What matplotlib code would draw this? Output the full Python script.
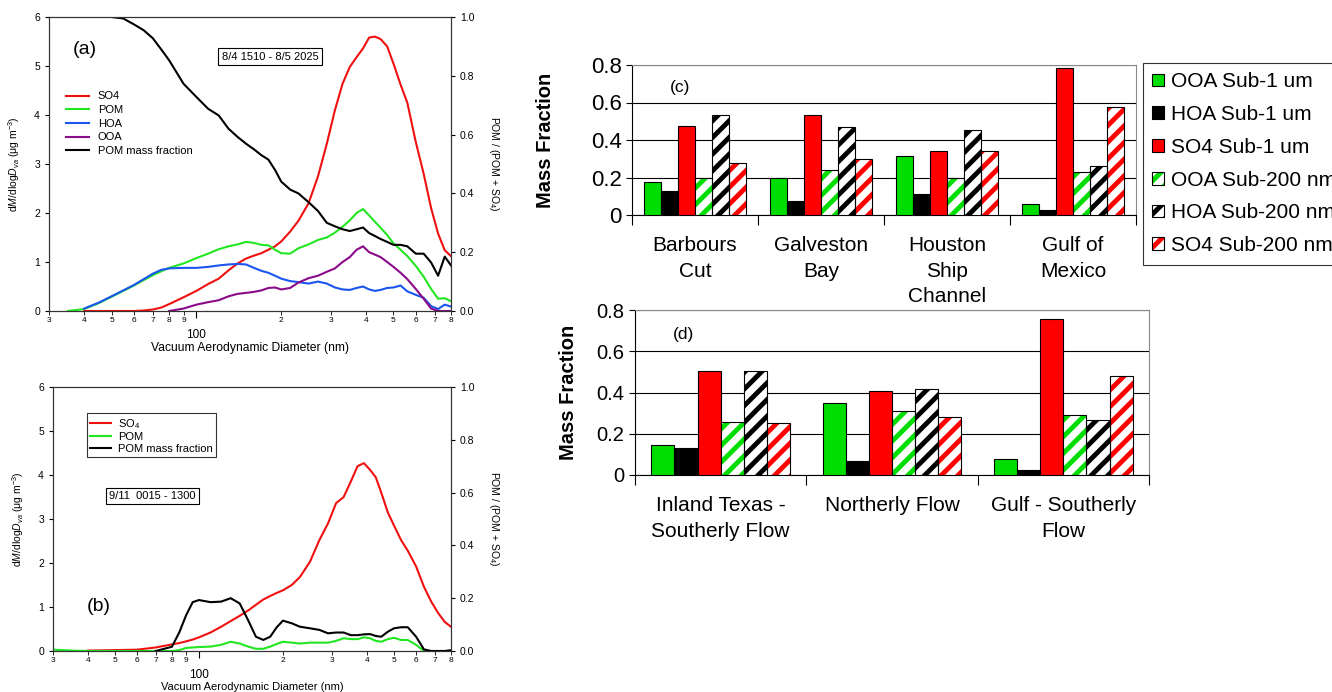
import numpy as np
from matplotlib import pyplot as plt
from matplotlib import rc
from matplotlib.patches import Patch
from matplotlib.legend_handler import HandlerTuple

rc('font', family=['Liberation Sans', 'DejaVu Sans'])
rc('mathtext', fontset='custom', rm='Liberation Sans', it='Liberation Sans:italic')
rc('hatch', linewidth=3.5)

nan = np.nan

# panel (a): size distributions 8/4 1510 - 8/5 2025
d_a = [30, 35, 40, 45, 50, 55, 60, 65, 70, 75, 80, 90, 100, 110, 120, 130, 140, 150,
       160, 170, 180, 190, 200, 215, 230, 250, 270, 290, 310, 330, 350, 370, 390, 410,
       430, 450, 475, 500, 530, 560, 600, 640, 680, 720, 760, 800]
so4_a = [nan, nan, 0, 0, 0, 0, 0, 0.01, 0.03, 0.07, 0.14, 0.28, 0.41, 0.55, 0.66, 0.83,
         0.97, 1.07, 1.13, 1.18, 1.25, 1.32, 1.42, 1.62, 1.84, 2.2, 2.75, 3.41, 4.1, 4.64,
         4.98, 5.18, 5.36, 5.58, 5.6, 5.55, 5.4, 5.05, 4.62, 4.25, 3.45, 2.8, 2.1, 1.58,
         1.24, 1.12]
pom_a = [nan, 0, 0.04, 0.16, 0.29, 0.41, 0.52, 0.63, 0.73, 0.81, 0.88, 0.97, 1.08, 1.17,
         1.26, 1.32, 1.36, 1.41, 1.39, 1.35, 1.34, 1.25, 1.18, 1.17, 1.28, 1.36, 1.45, 1.5,
         1.6, 1.72, 1.85, 2.0, 2.08, 1.95, 1.82, 1.7, 1.55, 1.38, 1.25, 1.12, 0.92, 0.7,
         0.45, 0.25, 0.26, 0.2]
hoa_a = [0.02, nan, 0.05, 0.17, 0.3, 0.42, 0.53, 0.65, 0.76, 0.84, 0.87, 0.88, 0.88, 0.9,
         0.93, 0.95, 0.96, 0.95, 0.88, 0.82, 0.78, 0.72, 0.66, 0.61, 0.59, 0.56, 0.6, 0.56,
         0.48, 0.44, 0.43, 0.47, 0.5, 0.44, 0.41, 0.43, 0.47, 0.48, 0.52, 0.4, 0.33, 0.27,
         0.1, 0.04, 0.13, 0.09]
ooa_a = [nan, nan, nan, nan, nan, nan, nan, nan, nan, nan, 0, 0.05, 0.13, 0.18, 0.22, 0.3,
         0.35, 0.37, 0.39, 0.42, 0.47, 0.48, 0.44, 0.47, 0.58, 0.67, 0.72, 0.8, 0.87, 1.0,
         1.1, 1.25, 1.32, 1.2, 1.15, 1.1, 1.0, 0.9, 0.78, 0.65, 0.45, 0.25, 0.05, 0, 0, 0]
frac_a = [nan, nan, nan, nan, 1.0, 0.995, 0.975, 0.955, 0.928, 0.89, 0.853, 0.773, 0.728,
          0.688, 0.665, 0.62, 0.592, 0.569, 0.55, 0.53, 0.515, 0.48, 0.44, 0.413, 0.40,
          0.37, 0.34, 0.3, 0.288, 0.278, 0.272, 0.278, 0.284, 0.265, 0.255, 0.245, 0.235,
          0.225, 0.225, 0.22, 0.195, 0.195, 0.165, 0.12, 0.185, 0.155]

# panel (b): size distributions 9/11 0015 - 1300
d_b = [30, 35, 40, 50, 60, 70, 80, 85, 90, 95, 100, 110, 120, 130, 140, 150, 160, 170,
       180, 190, 200, 215, 230, 250, 270, 290, 310, 330, 350, 370, 390, 410, 430, 450,
       475, 500, 530, 560, 600, 640, 680, 720, 760, 800]
so4_b = [nan, nan, 0.01, 0.02, 0.03, 0.08, 0.15, 0.18, 0.22, 0.26, 0.31, 0.42, 0.55, 0.68,
         0.8, 0.92, 1.05, 1.17, 1.25, 1.32, 1.38, 1.5, 1.68, 2.03, 2.52, 2.9, 3.36, 3.5,
         3.85, 4.2, 4.27, 4.12, 3.95, 3.6, 3.15, 2.85, 2.52, 2.28, 1.92, 1.46, 1.12, 0.86,
         0.66, 0.55]
pom_b = [0.03, 0.01, 0, 0, 0, 0, 0, 0.02, 0.07, 0.08, 0.09, 0.1, 0.14, 0.21, 0.17, 0.1,
         0.05, 0.05, 0.1, 0.16, 0.21, 0.19, 0.17, 0.19, 0.19, 0.19, 0.23, 0.29, 0.27, 0.27,
         0.31, 0.29, 0.23, 0.21, 0.27, 0.3, 0.25, 0.25, 0.14, 0, 0, 0, 0, 0]
frac_b = [nan, nan, nan, nan, nan, 0, 0.016, 0.07, 0.136, 0.185, 0.193, 0.185, 0.187, 0.2,
          0.18, 0.117, 0.054, 0.042, 0.054, 0.09, 0.115, 0.105, 0.092, 0.086, 0.08, 0.067,
          0.07, 0.07, 0.06, 0.06, 0.063, 0.064, 0.057, 0.054, 0.073, 0.086, 0.09, 0.09,
          0.054, 0.006, 0, 0, 0, 0.003]

# panel (c): mass fractions by site
sites = ['Barbours\nCut', 'Galveston\nBay', 'Houston\nShip\nChannel', 'Gulf of\nMexico']
ooa1_c = [0.175, 0.20, 0.316, 0.06]
hoa1_c = [0.127, 0.075, 0.11, 0.027]
so41_c = [0.477, 0.534, 0.342, 0.786]
ooa200_c = [0.20, 0.241, 0.20, 0.232]
hoa200_c = [0.534, 0.468, 0.452, 0.259]
so4200_c = [0.275, 0.30, 0.342, 0.575]

# panel (d): mass fractions by flow regime
flows = ['Inland Texas -\nSoutherly Flow', 'Northerly Flow', 'Gulf - Southerly\nFlow']
ooa1_d = [0.145, 0.348, 0.076]
hoa1_d = [0.131, 0.069, 0.024]
so41_d = [0.505, 0.405, 0.755]
ooa200_d = [0.258, 0.311, 0.289]
hoa200_d = [0.505, 0.419, 0.266]
so4200_d = [0.25, 0.282, 0.479]

bar_labels = ['OOA Sub-1 um', 'HOA Sub-1 um', 'SO4 Sub-1 um',
              'OOA Sub-200 nm', 'HOA Sub-200 nm', 'SO4 Sub-200 nm']

RED, GREEN, BLUE, PURPLE = '#f01010', '#22e622', '#1a55f0', '#8a0a8a'
BGREEN, BRED = '#00dd00', '#ff0000'

W, H = 1332, 692
fig = plt.figure(figsize=(W / 100, H / 100), dpi=100)


def px_rect(left, top, right, bottom):
    return [left / W, 1 - bottom / H, (right - left) / W, (bottom - top) / H]


def size_axes(rect, xlab_size):
    ax = fig.add_axes(rect)
    ax.set_xscale('log')
    ax.set_xlim(30, 800)
    ax.set_ylim(0, 6)
    ax2 = ax.twinx()
    ax2.set_ylim(0, 1)
    minors = [30, 40, 50, 60, 70, 80, 90, 200, 300, 400, 500, 600, 700, 800]
    ax.set_xticks([100], ['100'])
    ax.set_xticks(minors, [str(m)[0] for m in minors], minor=True)
    ax.tick_params(axis='x', which='major', length=5, labelsize=8.5, pad=8)
    ax.tick_params(axis='x', which='minor', length=3, labelsize=6, pad=1.5)
    ax.set_yticks(range(7))
    ax.tick_params(axis='y', length=3, labelsize=7.5)
    ticks = np.arange(0, 1.01, 0.2)
    ax2.set_yticks(ticks, [f'{t:.1f}' for t in ticks])
    ax2.tick_params(axis='y', length=3, labelsize=7.5)
    for a in (ax, ax2):
        for s in a.spines.values():
            s.set_linewidth(0.8)
            s.set_color('#333333')
    ax.set_xlabel('Vacuum Aerodynamic Diameter (nm)', fontsize=xlab_size, labelpad=1)
    ax.set_ylabel(r'd$M$/dlog$D_{va}$ (μg m$^{-3}$)', fontsize=7.5, labelpad=9)
    ax2.set_ylabel(r'POM / (POM + SO$_4$)', fontsize=7.5, rotation=270, labelpad=19)
    return ax, ax2


def tag_box(ax, x, y, s):
    ax.text(x, y, s, transform=ax.transAxes, ha='center', va='center', fontsize=8,
            bbox=dict(boxstyle='square,pad=0.3', fc='white', ec='black', lw=0.8))


# (a)
ax, ax2 = size_axes(px_rect(49, 17, 451, 311), 8.7)
l1, = ax.plot(d_a, so4_a, color=RED, lw=1.5)
l2, = ax.plot(d_a, pom_a, color=GREEN, lw=1.5)
l3, = ax.plot(d_a, hoa_a, color=BLUE, lw=1.5)
l4, = ax.plot(d_a, ooa_a, color=PURPLE, lw=1.5)
l5, = ax2.plot(d_a, frac_a, color='black', lw=1.5)
ax2.legend([l1, l2, l3, l4, l5], ['SO4', 'POM', 'HOA', 'OOA', 'POM mass fraction'],
           loc='upper left', bbox_to_anchor=(0.03, 0.762), frameon=False, fontsize=8,
           handlelength=2.1, labelspacing=0.33, borderaxespad=0)
ax.text(0.06, 0.89, '(a)', transform=ax.transAxes, fontsize=14, va='center')
tag_box(ax2, 0.55, 0.865, '8/4 1510 - 8/5 2025')

# (b)
ax, ax2 = size_axes(px_rect(53, 387, 451, 651), 8)
l1, = ax.plot(d_b, so4_b, color=RED, lw=1.5)
l2, = ax.plot(d_b, pom_b, color=GREEN, lw=1.5)
l5, = ax2.plot(d_b, frac_b, color='black', lw=1.5)
leg = ax2.legend([l1, l2, l5], [r'SO$_4$', 'POM', 'POM mass fraction'],
                 loc='upper left', bbox_to_anchor=(0.085, 0.9), frameon=True, fancybox=False,
                 edgecolor='black', fontsize=8, handlelength=1.9, labelspacing=0.15,
                 borderpad=0.3, borderaxespad=0, handletextpad=0.6)
leg.get_frame().set_linewidth(0.8)
ax.text(0.085, 0.167, '(b)', transform=ax.transAxes, fontsize=14, va='center')
tag_box(ax2, 0.25, 0.587, '9/11  0015 - 1300')


def bar_axes(rect, cats, series, tag, tag_xy, ylab_x, ytick_size):
    ax = fig.add_axes(rect)
    x = np.arange(len(cats))
    w = 0.135
    for k, (vals, color, hatched) in enumerate(series):
        pos = x + (k - 2.5) * w
        if hatched:
            ax.bar(pos, vals, w, color='white', edgecolor=color, hatch='//', linewidth=0,
                   zorder=3)
            ax.bar(pos, vals, w, fill=False, edgecolor='black', linewidth=0.8, zorder=4)
        else:
            ax.bar(pos, vals, w, color=color, edgecolor='black', linewidth=0.8, zorder=3)
    ax.set_xlim(-0.5, len(cats) - 0.5)
    ax.set_ylim(0, 0.8)
    yt = [0, 0.2, 0.4, 0.6, 0.8]
    ax.set_yticks(yt, ['0', '0.2', '0.4', '0.6', '0.8'])
    ax.yaxis.grid(True, color='black', lw=0.8)
    ax.set_axisbelow(True)
    ax.set_xticks(x, cats)
    ax.set_xticks(np.arange(len(cats) + 1) - 0.5, minor=True)
    ax.tick_params(axis='x', which='major', length=0, labelsize=15, pad=15)
    ax.tick_params(axis='x', which='minor', length=7, width=0.8)
    ax.tick_params(axis='y', length=4, width=0.8, labelsize=ytick_size)
    for lbl in ax.get_xticklabels():
        lbl.set_linespacing(1.45)
        lbl.set_va('top')
    ax.spines['left'].set_color('black')
    ax.spines['bottom'].set_color('black')
    ax.spines['top'].set_color('#888888')
    ax.spines['right'].set_color('#888888')
    for s in ax.spines.values():
        s.set_linewidth(0.8)
    ax.set_ylabel('Mass Fraction', fontsize=14.5, fontweight='bold')
    ax.yaxis.set_label_coords(ylab_x, 0.5)
    ax.text(tag_xy[0], tag_xy[1], tag, transform=ax.transAxes, fontsize=12.5, va='center')
    return ax


bar_axes(px_rect(632, 65, 1136, 215), sites,
         [(ooa1_c, BGREEN, False), (hoa1_c, 'black', False), (so41_c, BRED, False),
          (ooa200_c, BGREEN, True), (hoa200_c, 'black', True), (so4200_c, BRED, True)],
         '(c)', (0.075, 0.85), -0.153, 16)
bar_axes(px_rect(635, 310, 1149, 475), flows,
         [(ooa1_d, BGREEN, False), (hoa1_d, 'black', False), (so41_d, BRED, False),
          (ooa200_d, BGREEN, True), (hoa200_d, 'black', True), (so4200_d, BRED, True)],
         '(d)', (0.073, 0.85), -0.111, 14.5)

handles = []
for color, hatched in [(BGREEN, False), ('black', False), (BRED, False),
                       (BGREEN, True), ('black', True), (BRED, True)]:
    if hatched:
        handles.append((Patch(facecolor='white', edgecolor=color, hatch='//', lw=0),
                        Patch(fill=False, edgecolor='black', lw=0.8)))
    else:
        handles.append(Patch(facecolor=color, edgecolor='black', lw=0.8))
leg = fig.legend(handles, bar_labels, loc='upper left',
                 bbox_to_anchor=(1143 / W, 1 - 63 / H), frameon=True, fancybox=False,
                 edgecolor='black', fontsize=15, handlelength=0.55, handleheight=0.55,
                 handletextpad=0.35, labelspacing=0.66, borderpad=0.45, borderaxespad=0,
                 handler_map={tuple: HandlerTuple(ndivide=1)})
leg.get_frame().set_linewidth(0.8)

plt.savefig('out.png')
